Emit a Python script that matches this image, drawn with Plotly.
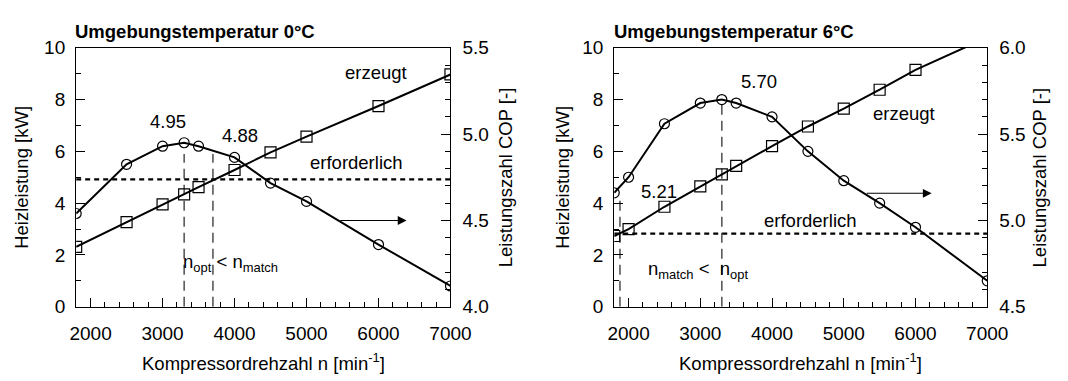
import plotly.graph_objects as go

# Compressor speed [1/min] at the measured points
n_0 = [1800, 2500, 3000, 3300, 3500, 4000, 4500, 5000, 6000, 7000]
n_6 = [1800, 2000, 2500, 3000, 3300, 3500, 4000, 4500, 5000, 5500, 6000, 7000]

# Coefficient of performance (right axis)
cop_0 = [4.54, 4.825, 4.93, 4.95, 4.93, 4.865, 4.716, 4.61, 4.36, 4.12]
cop_6 = [5.16, 5.25, 5.56, 5.68, 5.70, 5.68, 5.60, 5.40, 5.23, 5.10, 4.96, 4.65]

# Generated heating power [kW] (left axis)
heat_0 = [2.31, 3.27, 3.95, 4.34, 4.62, 5.28, 5.96, 6.57, 7.75, 8.97]
heat_6 = [2.73, 3.0, 3.86, 4.65, 5.11, 5.44, 6.2, 6.96, 7.65, 8.38, 9.15, 10.4]

# Required heating power [kW]
req_0 = 4.92
req_6 = 2.82

# Characteristic speeds: optimum COP and power match
n_opt_0, n_match_0 = 3300, 3700
n_match_6, n_opt_6 = 1880, 3300
marker_top_0 = [5.9, 5.9]
marker_top_6 = [4.2, 7.85]

# COP value labels
cop_labels_0 = ["4.95", "4.88"]
cop_labels_6 = ["5.70", "5.21"]

FONT = "Liberation Sans, Arial, sans-serif"
N_RANGE = [1800, 7000]

fig = go.Figure()

def curves(xa, ya, ya_cop, n, heat, cop, req, vlines, tops):
    # vertical markers for n_opt / n_match
    for nv, top in zip(vlines, tops):
        fig.add_trace(go.Scatter(x=[nv, nv], y=[0, top], mode="lines",
                                 line=dict(color="#4d4d4d", width=1.5, dash="10px,6px"),
                                 xaxis=xa, yaxis=ya, showlegend=False, hoverinfo="skip"))
    # required heating power
    fig.add_trace(go.Scatter(x=N_RANGE, y=[req, req], mode="lines",
                             line=dict(color="black", width=2.2, dash="5px,4px"),
                             xaxis=xa, yaxis=ya, showlegend=False))
    # generated heating power
    fig.add_trace(go.Scatter(x=n, y=heat, mode="lines+markers",
                             line=dict(color="black", width=2),
                             marker=dict(symbol="square-open", size=11, color="black",
                                         line=dict(width=1.2)),
                             xaxis=xa, yaxis=ya, showlegend=False))
    # COP
    fig.add_trace(go.Scatter(x=n, y=cop, mode="lines+markers",
                             line=dict(color="black", width=2),
                             marker=dict(symbol="circle-open", size=10, color="black",
                                         line=dict(width=1.2)),
                             xaxis=xa, yaxis=ya_cop, showlegend=False))

curves("x", "y", "y2", n_0, heat_0, cop_0, req_0, [n_opt_0, n_match_0], marker_top_0)
curves("x2", "y3", "y4", n_6, heat_6, cop_6, req_6, [n_match_6, n_opt_6], marker_top_6)

W, H = 1068, 381
dom_y = [1 - 314 / H, 1 - 40 / H]
dom_l = [72 / W, 456 / W]
dom_r = [624 / W, 1006.7 / W]

tickfont = dict(family=FONT, size=19, color="black")

def xax(domain, anchor):
    return dict(domain=domain, anchor=anchor, range=N_RANGE, dtick=1000, tick0=0,
                ticks="inside", ticklen=9, tickwidth=1, tickcolor="black",
                minor=dict(dtick=200, tick0=0, ticks="inside", ticklen=5,
                           tickwidth=1, tickcolor="black"),
                showline=True, linecolor="black", linewidth=1.3, mirror=True,
                showgrid=False, zeroline=False, tickfont=tickfont,
                ticklabelstandoff=9)

def yax_left(anchor):
    return dict(domain=dom_y, anchor=anchor, range=[0, 10], dtick=2, tick0=0,
                ticks="inside", ticklen=9, tickwidth=1, tickcolor="black",
                minor=dict(dtick=1, ticks="inside", ticklen=5, tickwidth=1,
                           tickcolor="black"),
                showline=True, linecolor="black", linewidth=1.3,
                showgrid=False, zeroline=False, tickfont=tickfont,
                ticklabelstandoff=6)

def yax_right(overlay, anchor, rng):
    return dict(overlaying=overlay, anchor=anchor, side="right", range=rng,
                dtick=0.5, tick0=0, tickformat=".1f",
                ticks="inside", ticklen=9, tickwidth=1, tickcolor="black",
                minor=dict(dtick=0.1, ticks="inside", ticklen=5, tickwidth=1,
                           tickcolor="black"),
                showline=True, linecolor="black", linewidth=1.3,
                showgrid=False, zeroline=False, tickfont=tickfont,
                ticklabelstandoff=7)

txt = dict(family=FONT, size=18.5, color="black")

annotations = []

def label(xr, yr, x, y, text, **kw):
    annotations.append(dict(xref=xr, yref=yr, x=x, y=y, text=text, showarrow=False,
                            font=txt, xanchor="center", yanchor="middle", **kw))

# left panel texts
label("x", "y", 3070, 7.15, cop_labels_0[0])
label("x", "y", 4070, 6.61, cop_labels_0[1])
label("x", "y", 5960, 9.06, "erzeugt")
label("x", "y", 5690, 5.58, "erforderlich")
label("x", "y", 3940, 1.68, "n<sub>opt</sub> &lt; n<sub>match</sub>")

# right panel texts
label("x2", "y3", 3815, 8.69, cop_labels_6[0])
label("x2", "y3", 2425, 4.46, cop_labels_6[1])
label("x2", "y3", 5845, 7.47, "erzeugt")
label("x2", "y3", 4540, 3.31, "erforderlich")
label("x2", "y3", 2970, 1.42, "n<sub>match</sub> &lt;  n<sub>opt</sub>")

# arrows pointing to the COP axis
for xr, yr, x0, x1, yv in [("x", "y", 5450, 6390, 3.33), ("x2", "y3", 5300, 6225, 4.38)]:
    annotations.append(dict(xref=xr, yref=yr, axref=xr, ayref=yr, x=x1, y=yv,
                            ax=x0, ay=yv, text="", showarrow=True, arrowhead=2,
                            arrowsize=1.6, arrowwidth=1.1, arrowcolor="black"))

# panel titles
for x0, t in [(69, "Umgebungstemperatur 0°C"), (621.5, "Umgebungstemperatur 6°C")]:
    annotations.append(dict(xref="paper", yref="paper", x=x0 / W, y=1 - 22.7 / H,
                            text="<b>" + t + "</b>", showarrow=False,
                            xanchor="left", yanchor="middle",
                            font=dict(family=FONT, size=18.5, color="black")))

# axis titles
for xc in [264, 815]:
    annotations.append(dict(xref="paper", yref="paper", x=xc / W, y=1 - 373 / H,
                            text="Kompressordrehzahl n [min<sup>-1</sup>]",
                            showarrow=False, xanchor="center", yanchor="middle", font=txt))
for xc, t in [(16, "Heizleistung [kW]"), (512, "Leistungszahl COP [-]"),
              (571, "Heizleistung [kW]"), (1060, "Leistungszahl COP [-]")]:
    annotations.append(dict(xref="paper", yref="paper", x=xc / W, y=1 - 177 / H,
                            text=t, textangle=-90, showarrow=False,
                            xanchor="center", yanchor="middle", font=txt))

fig.update_layout(
    width=W, height=H,
    margin=dict(l=0, r=0, t=0, b=0),
    paper_bgcolor="white", plot_bgcolor="white",
    xaxis=xax(dom_l, "y"),
    yaxis=yax_left("x"),
    yaxis2=yax_right("y", "x", [4.0, 5.5]),
    xaxis2=xax(dom_r, "y3"),
    yaxis3=yax_left("x2"),
    yaxis4=yax_right("y3", "x2", [4.5, 6.0]),
    annotations=annotations,
    font=dict(family=FONT, color="black"),
)
fig.update_yaxes(domain=dom_y)

fig.write_html("out.html")
